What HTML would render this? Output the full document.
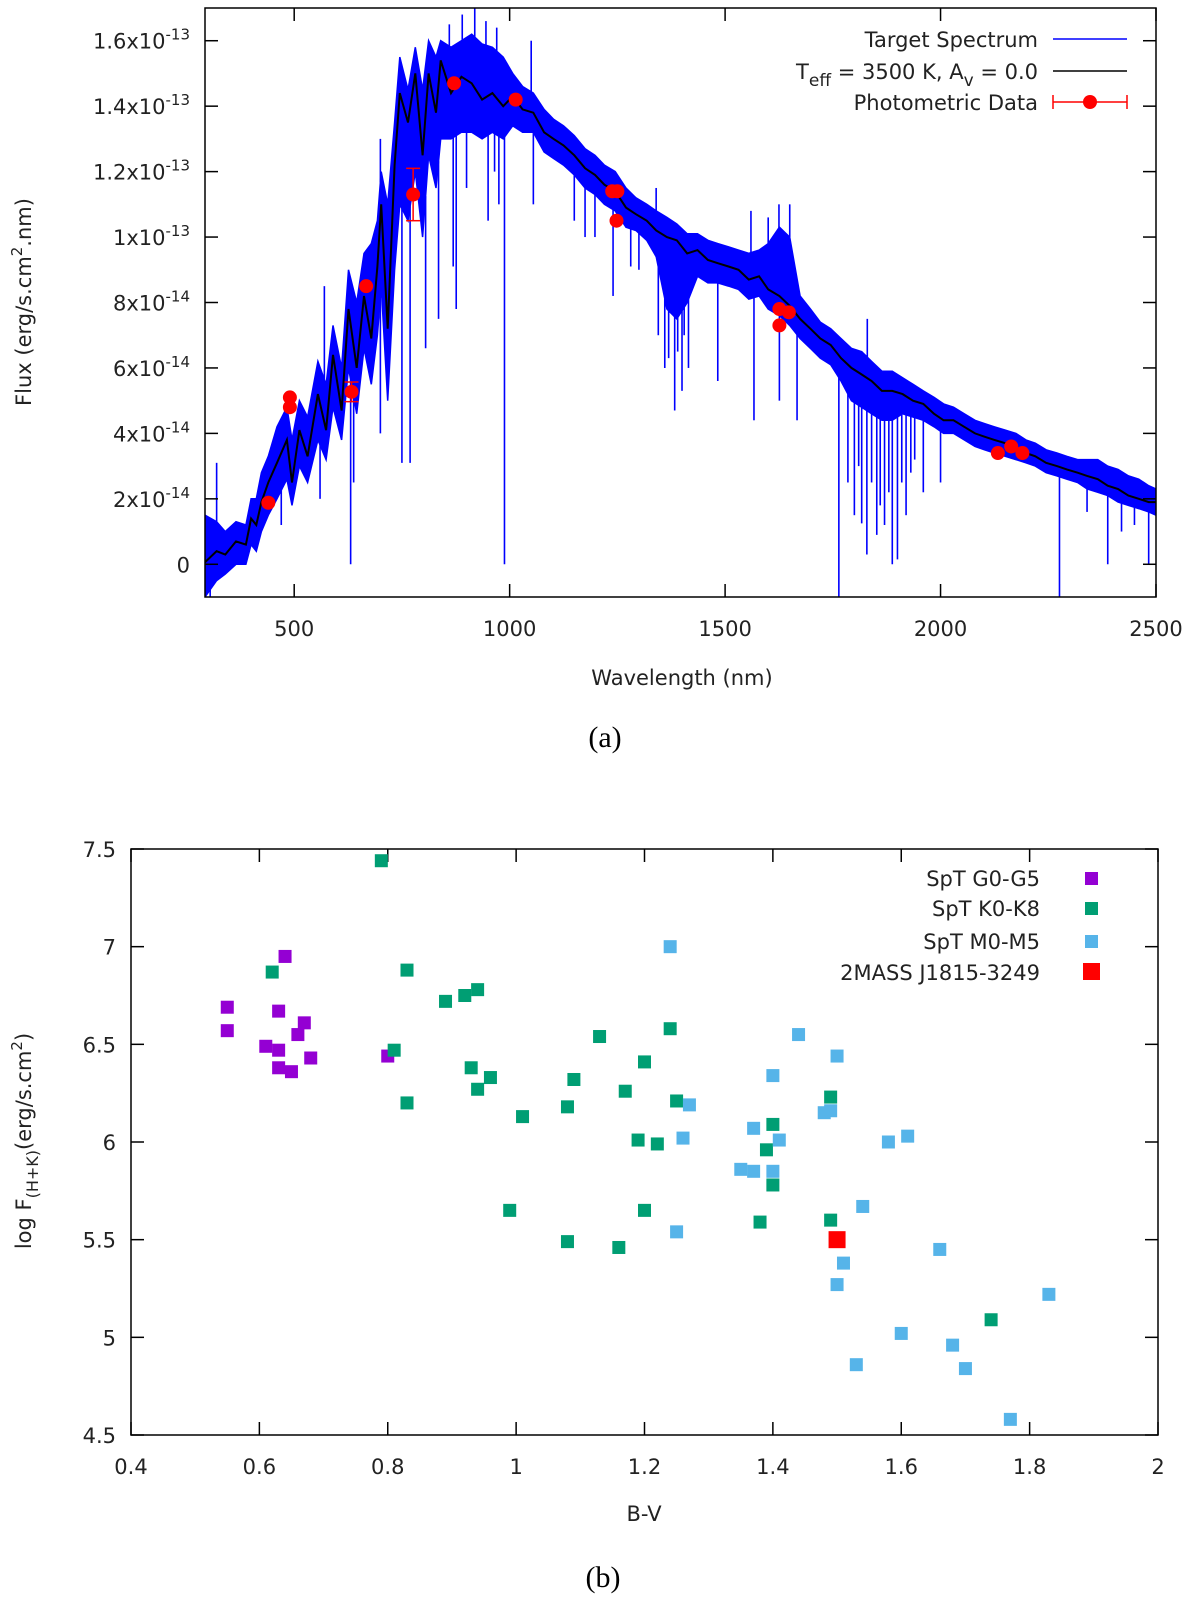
<!DOCTYPE html>
<html><head><meta charset="utf-8"><style>
html,body{margin:0;padding:0;background:#fff;}
svg{display:block;font-family:"DejaVu Sans","Liberation Sans",sans-serif;}
.t{font-size:21px;fill:#222;}
.cap{font-family:"Liberation Serif",serif;font-size:30px;fill:#000;}
</style></head><body>
<svg id="svg" width="1200" height="1605" viewBox="0 0 1200 1605" xmlns="http://www.w3.org/2000/svg">
<g id="ga"></g>
<g id="gb"></g>
<text class="cap" x="605" y="747" text-anchor="middle">(a)</text>
<text class="cap" x="603" y="1587" text-anchor="middle">(b)</text>
</svg>
<script>
// ===== Chart (a) data =====
const modelWl=[293,320,340,365,388,400,412,424,440,460,483,495,512,531,555,574,590,610,626,645,662,679,693,702,717,733,745,764,781,798,812,829,840,864,888,912,936,960,985,1007,1030,1055,1080,1102,1125,1150,1175,1198,1220,1245,1270,1293,1318,1340,1365,1388,1412,1436,1460,1483,1508,1531,1555,1579,1600,1626,1650,1674,1698,1721,1745,1769,1793,1817,1840,1864,1888,1912,1936,1960,1985,2007,2030,2055,2080,2102,2125,2150,2175,2198,2220,2245,2270,2293,2318,2340,2365,2388,2412,2436,2460,2483,2500];
const modelFlux=[0.06,0.4,0.3,0.7,0.6,1.4,1.2,1.9,2.5,3.1,3.8,2.5,4.1,3.3,5.2,4.1,6.4,4.7,7.8,6.0,8.2,6.9,9.1,11.0,7.2,12.2,14.4,13.5,15.0,12.5,15.0,13.8,15.4,14.4,14.9,14.7,14.2,14.4,14.0,14.3,13.9,13.8,13.2,13.0,12.8,12.5,12.1,11.9,11.6,11.4,10.9,10.7,10.5,10.2,10.0,9.9,9.5,9.6,9.3,9.2,9.1,9.0,8.7,8.8,8.4,8.2,7.9,7.5,7.2,6.9,6.7,6.3,6.0,5.8,5.6,5.3,5.3,5.2,5.0,4.9,4.6,4.4,4.4,4.2,4.0,3.9,3.8,3.7,3.5,3.4,3.3,3.1,3.0,2.9,2.8,2.7,2.6,2.4,2.3,2.1,2.0,1.9,1.9];
const specWl=[293,320,340,365,388,400,412,424,440,460,483,495,512,531,555,574,590,610,626,645,662,679,693,702,717,733,745,764,781,798,812,829,840,864,888,912,936,960,985,1007,1030,1055,1080,1102,1125,1150,1175,1198,1220,1245,1270,1293,1318,1340,1365,1388,1412,1436,1460,1483,1508,1531,1555,1579,1600,1626,1650,1674,1698,1721,1745,1769,1793,1817,1840,1864,1888,1912,1936,1960,1985,2007,2030,2055,2080,2102,2125,2150,2175,2198,2220,2245,2270,2293,2318,2340,2365,2388,2412,2436,2460,2483,2500];
const specHi=[1.5,1.3,1.0,1.3,1.2,2.0,2.0,2.8,3.3,4.2,4.8,3.8,5.0,4.5,6.2,5.5,7.3,6.0,9.0,8.0,9.5,9.8,10.5,12.0,11.0,13.5,15.5,14.5,15.8,14.5,16.0,15.5,16.0,15.8,16.0,16.2,15.9,15.8,15.5,15.0,14.6,14.4,13.9,13.6,13.4,13.1,12.7,12.5,12.2,12.0,11.5,11.2,11.0,10.8,10.6,10.4,10.1,10.1,9.9,9.8,9.7,9.6,9.5,9.6,9.8,10.3,10.0,8.2,7.8,7.4,7.2,6.9,6.6,6.5,6.2,5.9,5.9,5.7,5.5,5.3,5.1,4.9,4.8,4.6,4.4,4.3,4.2,4.1,4.0,3.8,3.7,3.5,3.4,3.3,3.2,3.2,3.2,3.0,2.9,2.7,2.6,2.4,2.3];
const specLo=[-1,-0.5,-0.3,0,0,0.6,0.4,1.0,1.5,2.0,2.6,1.8,3.0,2.5,3.8,3.2,4.8,3.8,6.0,4.6,6.6,5.5,7.0,8.5,5.0,9.0,11.0,10.5,12.0,10.0,12.5,11.5,13.0,13.0,13.2,13.2,13.0,13.2,13.0,13.4,13.2,13.2,12.6,12.4,12.2,11.9,11.5,11.3,11.0,10.8,10.3,10.2,9.9,9.4,7.8,7.5,8.0,8.8,8.6,8.6,8.5,8.4,8.1,8.2,7.8,7.6,7.3,6.9,6.6,6.3,6.1,5.6,5.0,4.8,4.6,4.4,4.4,4.6,4.5,4.4,4.2,4.0,4.0,3.8,3.6,3.5,3.4,3.3,3.2,3.1,3.0,2.8,2.7,2.6,2.5,2.3,2.2,2.1,1.9,1.8,1.7,1.6,1.5];
const dipWl=[305,320,400,470,560,631,638,700,750,769,805,835,869,876,900,950,965,975,988,1055,1150,1175,1198,1240,1281,1300,1345,1352,1360,1369,1383,1390,1400,1405,1415,1483,1567,1626,1667,1764,1785,1800,1810,1817,1829,1840,1852,1860,1870,1880,1888,1900,1910,1920,1931,1940,1960,2000,2276,2340,2388,2420,2450,2483];
const dipFlux=[-1,1.0,1.0,1.2,2.0,0,2.5,4.0,3.1,3.1,6.6,7.5,9.1,7.8,11.5,10.5,12,11,0,11,10.5,10,10,8.2,9.1,9,7,9.7,6,6.3,4.7,6.5,5.3,7,6,5.6,4.4,5.0,4.4,-1,2.5,1.5,3,1.25,0.3,2.5,0.9,1.8,1.2,2.2,0,0.15,2.5,1.5,2.8,3.2,2.2,2.5,-1,1.6,0,1.0,1.2,0];
const spikeWl=[320,570,700,860,890,919,945,970,1050,1340,1560,1600,1625,1650,1830];
const spikeFlux=[3.1,8.5,13,16.5,16.8,17.5,16.6,16.4,16,11.5,10.8,10.6,11,11,7.5];
const photWl=[440,490,490,633,667,776,871,1014,1238,1250,1248,1626,1648,1626,2133,2164,2190];
const photFlux=[1.88,5.1,4.8,5.27,8.5,11.3,14.7,14.2,11.4,11.4,10.5,7.8,7.7,7.3,3.4,3.6,3.4];
const photErr=[0,0,0,0.3,0,0.8,0,0,0,0,0,0,0,0,0,0,0];
const xTicksA=[500,1000,1500,2000,2500];
const yTicksA=[0,2,4,6,8,10,12,14,16];
const yTickBaseA=["0","2x10","4x10","6x10","8x10","1x10","1.2x10","1.4x10","1.6x10"];
const yTickExpA=["","-14","-14","-14","-14","-13","-13","-13","-13"];

// ===== Chart (b) data =====
const gBV=[0.55,0.55,0.61,0.63,0.63,0.64,0.63,0.65,0.66,0.67,0.68,0.80];
const gF=[6.69,6.57,6.49,6.47,6.67,6.95,6.38,6.36,6.55,6.61,6.43,6.44];
const kBV=[0.79,0.62,0.83,0.81,0.83,0.89,0.92,0.94,0.93,0.94,0.96,0.99,1.01,1.08,1.09,1.08,1.13,1.16,1.17,1.19,1.20,1.20,1.22,1.24,1.25,1.38,1.39,1.40,1.40,1.49,1.49,1.74];
const kF=[7.44,6.87,6.88,6.47,6.20,6.72,6.75,6.78,6.38,6.27,6.33,5.65,6.13,6.18,6.32,5.49,6.54,5.46,6.26,6.01,6.41,5.65,5.99,6.58,6.21,5.59,5.96,6.09,5.78,6.23,5.60,5.09];
const mBV=[1.24,1.27,1.26,1.25,1.35,1.37,1.37,1.40,1.41,1.40,1.44,1.48,1.49,1.50,1.50,1.51,1.53,1.54,1.58,1.60,1.61,1.66,1.68,1.70,1.77,1.83];
const mF=[7.00,6.19,6.02,5.54,5.86,6.07,5.85,6.34,6.01,5.85,6.55,6.15,6.16,6.44,5.27,5.38,4.86,5.67,6.00,5.02,6.03,5.45,4.96,4.84,4.58,5.22];
const tBV=[1.50];
const tF=[5.50];
const xTicksB=[0.4,0.6,0.8,1,1.2,1.4,1.6,1.8,2];
const yTicksB=[4.5,5,5.5,6,6.5,7,7.5];

const NS="http://www.w3.org/2000/svg";
function mk(parent,tag,attrs){const e=document.createElementNS(NS,tag);for(const k in attrs)e.setAttribute(k,attrs[k]);parent.appendChild(e);return e;}

// ---------- Chart A ----------
const A={l:205,r:1156,t:8,b:597,x0:293,x1:2500,y0:-1.0,y1:17.0};
const ax=w=>A.l+(w-A.x0)/(A.x1-A.x0)*(A.r-A.l);
const ay=f=>A.b-(f-A.y0)/(A.y1-A.y0)*(A.b-A.t);
const ga=document.getElementById('ga');
const defs=mk(document.getElementById('svg'),'defs',{});
const cp=mk(defs,'clipPath',{id:'clipA'});
mk(cp,'rect',{x:A.l,y:A.t,width:A.r-A.l,height:A.b-A.t});
const plotA=mk(ga,'g',{'clip-path':'url(#clipA)'});


let d='M'+specWl.map((w,i)=>ax(w).toFixed(1)+','+ay(specHi[i]).toFixed(1)).join('L');
for(let i=specWl.length-1;i>=0;i--)d+='L'+ax(specWl[i]).toFixed(1)+','+ay(specLo[i]).toFixed(1);
const band=mk(plotA,'path',{d:d+'Z',fill:'#0000ff',stroke:'#0000ff','stroke-width':1.5});


function interp(w,xs,ys){for(let i=1;i<xs.length;i++){if(w<=xs[i]){const t=(w-xs[i-1])/(xs[i]-xs[i-1]);return ys[i-1]+t*(ys[i]-ys[i-1]);}}return ys[ys.length-1];}
dipWl.forEach((w,i)=>{const l=mk(plotA,'line',{x1:ax(w),x2:ax(w),y1:ay(interp(w,specWl,specLo)),y2:ay(dipFlux[i]),stroke:'#0000ff','stroke-width':1.6});

});
spikeWl.forEach((w,i)=>{const l=mk(plotA,'line',{x1:ax(w),x2:ax(w),y1:ay(interp(w,specWl,specHi)),y2:ay(spikeFlux[i]),stroke:'#0000ff','stroke-width':1.6});

});
const model=mk(plotA,'polyline',{points:modelWl.map((w,i)=>ax(w).toFixed(1)+','+ay(modelFlux[i]).toFixed(1)).join(' '),fill:'none',stroke:'#000','stroke-width':2});


photWl.forEach((w,i)=>{
  const g=mk(ga,'g',{});
  
  
  if(photErr[i]>0){const x=ax(w),y1=ay(photFlux[i]+photErr[i]),y2=ay(photFlux[i]-photErr[i]);
    mk(g,'line',{x1:x,x2:x,y1:y1,y2:y2,stroke:'#f00','stroke-width':1.5});
    mk(g,'line',{x1:x-7,x2:x+7,y1:y1,y2:y1,stroke:'#f00','stroke-width':1.5});
    mk(g,'line',{x1:x-7,x2:x+7,y1:y2,y2:y2,stroke:'#f00','stroke-width':1.5});}
  mk(g,'circle',{cx:ax(w),cy:ay(photFlux[i]),r:7,fill:'#f00'});
});
mk(ga,'rect',{x:A.l,y:A.t,width:A.r-A.l,height:A.b-A.t,fill:'none',stroke:'#000','stroke-width':1.5});
xTicksA.forEach(v=>{const x=ax(v);
  mk(ga,'line',{x1:x,x2:x,y1:A.b,y2:A.b-13,stroke:'#000','stroke-width':1.5});
  mk(ga,'line',{x1:x,x2:x,y1:A.t,y2:A.t+13,stroke:'#000','stroke-width':1.5});
  const t=mk(ga,'text',{x:x,y:636,'text-anchor':'middle',class:'t'});t.textContent=v;
  
  });
yTicksA.forEach((v,i)=>{const y=ay(v);
  mk(ga,'line',{x1:A.l,x2:A.l+13,y1:y,y2:y,stroke:'#000','stroke-width':1.5});
  mk(ga,'line',{x1:A.r,x2:A.r-13,y1:y,y2:y,stroke:'#000','stroke-width':1.5});
  const t=mk(ga,'text',{x:190,y:y+8,'text-anchor':'end',class:'t'});
  
  
  const s1=mk(t,'tspan',{});s1.textContent=yTickBaseA[i];
  if(yTickExpA[i]){const s2=mk(t,'tspan',{dy:-9,'font-size':15});s2.textContent=yTickExpA[i];}});
</script>
<script>
(function(){
const ga=document.getElementById('ga');
ga.insertAdjacentHTML('beforeend',
`<text class="t" x="682" y="685" text-anchor="middle">Wavelength (nm)</text>
<text class="t" transform="translate(31,302) rotate(-90)" text-anchor="middle">Flux (erg/s.cm<tspan dy="-9" font-size="15">2</tspan><tspan dy="9">.nm)</tspan></text>
<g>
<text class="t" x="1038" y="47" text-anchor="end">Target Spectrum</text>
<line x1="1053" x2="1127" y1="39" y2="39" stroke="#0000ff" stroke-width="1.5"/>
<text class="t" x="1038" y="79" text-anchor="end">T<tspan dy="7" font-size="17">eff</tspan><tspan dy="-7"> = 3500 K, A</tspan><tspan dy="7" font-size="17">v</tspan><tspan dy="-7"> = 0.0</tspan></text>
<line x1="1053" x2="1127" y1="71" y2="71" stroke="#000" stroke-width="1.5"/>
<text class="t" x="1038" y="110" text-anchor="end">Photometric Data</text>
<line x1="1053" x2="1127" y1="102" y2="102" stroke="#f00" stroke-width="1.5"/>
<line x1="1053" x2="1053" y1="95" y2="109" stroke="#f00" stroke-width="1.5"/>
<line x1="1127" x2="1127" y1="95" y2="109" stroke="#f00" stroke-width="1.5"/>
<circle cx="1090" cy="102" r="7" fill="#f00"/>
</g>`);
})();
</script>
<script>
(function(){
const B={l:131,r:1158,t:849,b:1435,x0:0.4,x1:2,y0:4.5,y1:7.5};
const bx=v=>B.l+(v-B.x0)/(B.x1-B.x0)*(B.r-B.l);
const by=v=>B.b-(v-B.y0)/(B.y1-B.y0)*(B.b-B.t);
const gb=document.getElementById('gb');
function mk(parent,tag,attrs){const e=document.createElementNS("http://www.w3.org/2000/svg",tag);for(const k in attrs)e.setAttribute(k,attrs[k]);parent.appendChild(e);return e;}
mk(gb,'rect',{x:B.l,y:B.t,width:B.r-B.l,height:B.b-B.t,fill:'none',stroke:'#000','stroke-width':1.5});
xTicksB.forEach(v=>{const x=bx(v);
  mk(gb,'line',{x1:x,x2:x,y1:B.b,y2:B.b-13,stroke:'#000','stroke-width':1.5});
  mk(gb,'line',{x1:x,x2:x,y1:B.t,y2:B.t+13,stroke:'#000','stroke-width':1.5});
  const t=mk(gb,'text',{x:x,y:1474,'text-anchor':'middle',class:'t'});t.textContent=String(v);
  
  });
yTicksB.forEach(v=>{const y=by(v);
  mk(gb,'line',{x1:B.l,x2:B.l+13,y1:y,y2:y,stroke:'#000','stroke-width':1.5});
  mk(gb,'line',{x1:B.r,x2:B.r-13,y1:y,y2:y,stroke:'#000','stroke-width':1.5});
  const t=mk(gb,'text',{x:116,y:y+8,'text-anchor':'end',class:'t'});t.textContent=String(v);
  
  });
function series(xs,ys,color,size,name){xs.forEach((v,i)=>{
  const r=mk(gb,'rect',{x:bx(v)-size/2,y:by(ys[i])-size/2,width:size,height:size,fill:color});
  
  });}
series(gBV,gF,'#9400d3',13,'point-g0-g5');
series(kBV,kF,'#009e73',13,'point-k0-k8');
series(mBV,mF,'#56b4e9',13,'point-m0-m5');
series(tBV,tF,'#ff0000',17,'point-target');
gb.insertAdjacentHTML('beforeend',
`<text class="t" x="644" y="1521" text-anchor="middle">B-V</text>
<text class="t" transform="translate(31,1141) rotate(-90)" text-anchor="middle">log F<tspan dy="7" font-size="16">(H+K)</tspan><tspan dy="-7">(erg/s.cm</tspan><tspan dy="-9" font-size="15">2</tspan><tspan dy="9">)</tspan></text>
<g>
<text class="t" x="1040" y="886" text-anchor="end">SpT G0-G5</text>
<rect x="1085" y="872" width="13" height="13" fill="#9400d3"/>
<text class="t" x="1040" y="916" text-anchor="end">SpT K0-K8</text>
<rect x="1085" y="902" width="13" height="13" fill="#009e73"/>
<text class="t" x="1040" y="949" text-anchor="end">SpT M0-M5</text>
<rect x="1085" y="935" width="13" height="13" fill="#56b4e9"/>
<text class="t" x="1040" y="980" text-anchor="end">2MASS J1815-3249</text>
<rect x="1083" y="963" width="17" height="17" fill="#ff0000"/>
</g>`);
})();
</script>
</body></html>
